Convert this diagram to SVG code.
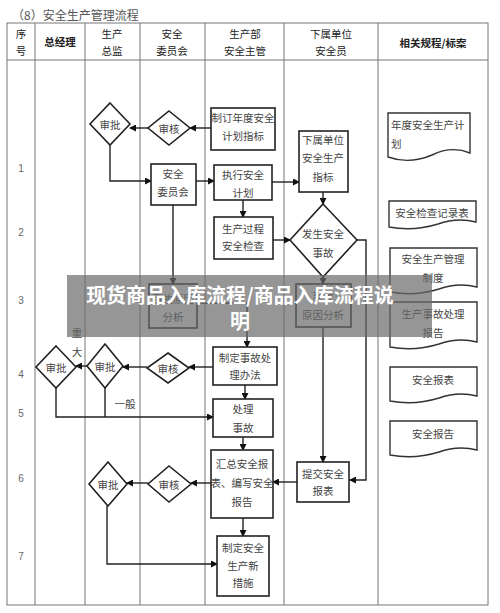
<svg xmlns="http://www.w3.org/2000/svg" width="500" height="613" viewBox="0 0 500 613">
<style>
text{font-family:"Noto Sans CJK SC","Liberation Sans",sans-serif;}
.t{font-size:10.5px;fill:#444;text-anchor:middle;dominant-baseline:central;}
.h{font-size:10.5px;fill:#222;text-anchor:middle;dominant-baseline:central;}
.hb{font-size:10.5px;fill:#222;text-anchor:middle;dominant-baseline:central;font-weight:bold;}
.n{font-size:10px;fill:#666;text-anchor:middle;dominant-baseline:central;font-family:"Liberation Sans",sans-serif;}
.grid{stroke:#777;stroke-width:1;fill:none;}
.box{fill:#fff;stroke:#222;stroke-width:1.6;}
.dia{fill:#fff;stroke:#222;stroke-width:1.6;}
.doc{fill:#fff;stroke:#333;stroke-width:1.4;}
.c{fill:none;stroke:#222;stroke-width:1.4;}
.ca{fill:none;stroke:#222;stroke-width:1.4;marker-end:url(#ah);}
</style>
<defs>
<marker id="ah" markerWidth="7" markerHeight="7" refX="6" refY="3.5" orient="auto" markerUnits="userSpaceOnUse">
<path d="M0,0 L7,3.5 L0,7 Z" fill="#111"/>
</marker>
</defs>
<rect width="500" height="613" fill="#fff"/>
<text x="12" y="14" style="font-size:12px;fill:#555;dominant-baseline:central;">（8）安全生产管理流程</text>
<g id="table">
<rect class="grid" x="7" y="23" width="481" height="582"/>
<line class="grid" x1="7" y1="60" x2="488" y2="60"/>
<line class="grid" x1="35" y1="23" x2="35" y2="605"/>
<line class="grid" x1="85" y1="23" x2="85" y2="605"/>
<line class="grid" x1="140" y1="23" x2="140" y2="605"/>
<line class="grid" x1="205" y1="23" x2="205" y2="605"/>
<line class="grid" x1="284" y1="23" x2="284" y2="605"/>
<line class="grid" x1="378" y1="23" x2="378" y2="605"/>
<text class="h" x="21" y="33">序</text><text class="h" x="21" y="50">号</text>
<text class="hb" x="60" y="41">总经理</text>
<text class="h" x="112" y="33">生产</text><text class="h" x="112" y="50">总监</text>
<text class="h" x="172" y="33">安全</text><text class="h" x="172" y="50">委员会</text>
<text class="h" x="245" y="33">生产部</text><text class="h" x="245" y="50">安全主管</text>
<text class="h" x="331" y="33">下属单位</text><text class="h" x="331" y="50">安全员</text>
<text class="hb" x="433" y="42">相关规程/标案</text>
<text class="n" x="21" y="168">1</text>
<text class="n" x="21" y="232">2</text>
<text class="n" x="21" y="300">3</text>
<text class="n" x="21" y="374">4</text>
<text class="n" x="21" y="413">5</text>
<text class="n" x="21" y="478">6</text>
<text class="n" x="21" y="556">7</text>
</g>
<g id="connectors">
<path class="ca" d="M211,128 H190"/>
<path class="ca" d="M148,128 H130"/>
<path class="ca" d="M110,145 V181 H151"/>
<path class="ca" d="M196,181 H214"/>
<path class="ca" d="M272,182 H299"/>
<path class="ca" d="M243,200 V217"/>
<path class="ca" d="M323,192 V204"/>
<path class="ca" d="M273,240 H290"/>
<path class="ca" d="M323,277 V284"/>
<path class="ca" d="M357,240 H366 V480 H350"/>
<path class="ca" d="M323,327 V462"/>
<path class="ca" d="M173,205 V284"/>
<path class="ca" d="M197,303 H247 V347"/>
<path class="ca" d="M213,367 H189"/>
<path class="ca" d="M147,367 H123"/>
<path class="ca" d="M87,366 H76"/>
<path class="ca" d="M56,388 V417 H213"/>
<path class="c" d="M105,388 V417"/>
<path class="ca" d="M245,385 V399"/>
<path class="ca" d="M243,437 V450"/>
<path class="ca" d="M297,482 H273"/>
<path class="ca" d="M211,483 H191"/>
<path class="ca" d="M148,483 H127"/>
<path class="ca" d="M107,506 V564 H217"/>
<path class="ca" d="M243,518 V536"/>
</g>
<g id="n-approve1">
<polygon class="dia" points="110,103 130,124 110,145 90,124"/>
<text class="t" x="110" y="124">审批</text>
</g>
<g id="n-review1">
<polygon class="dia" points="169,111 190,128 169,145 148,128"/>
<text class="t" x="169" y="128">审核</text>
</g>
<g id="n-plan">
<rect class="box" x="211" y="108" width="64" height="42"/>
<text class="t" x="243" y="117">制订年度安全</text>
<text class="t" x="243" y="135">计划指标</text>
</g>
<g id="n-subindex">
<rect class="box" x="299" y="131" width="49" height="61"/>
<text class="t" x="323" y="139">下属单位</text>
<text class="t" x="323" y="157">安全生产</text>
<text class="t" x="323" y="176">指标</text>
</g>
<g id="n-committee">
<rect class="box" x="151" y="164" width="45" height="41"/>
<text class="t" x="173" y="173">安全</text>
<text class="t" x="173" y="191">委员会</text>
</g>
<g id="n-execute">
<rect class="box" x="214" y="165" width="58" height="35"/>
<text class="t" x="243" y="174">执行安全</text>
<text class="t" x="243" y="192">计划</text>
</g>
<g id="n-check">
<rect class="box" x="214" y="217" width="59" height="42"/>
<text class="t" x="243" y="228">生产过程</text>
<text class="t" x="243" y="245">安全检查</text>
</g>
<g id="n-accident">
<polygon class="dia" points="323,204 357,240 323,277 290,240"/>
<text class="t" x="323" y="233">发生安全</text>
<text class="t" x="323" y="252">事故</text>
</g>
<g id="n-cause1">
<rect class="box" x="149" y="284" width="48" height="44"/>
<text class="t" x="173" y="298">事故原因</text>
<text class="t" x="173" y="316">分析</text>
</g>
<g id="n-cause2">
<rect class="box" x="296" y="284" width="55" height="43"/>
<text class="t" x="323" y="296">事故</text>
<text class="t" x="323" y="314">原因分析</text>
</g>
<g id="n-method">
<rect class="box" x="213" y="347" width="64" height="38"/>
<text class="t" x="245" y="357">制定事故处</text>
<text class="t" x="245" y="374">理办法</text>
</g>
<g id="n-review2">
<polygon class="dia" points="168,353 189,368 168,383 147,368"/>
<text class="t" x="168" y="368">审核</text>
</g>
<g id="n-approve2">
<polygon class="dia" points="105,344 123,366 105,388 87,366"/>
<text class="t" x="105" y="366">审批</text>
</g>
<g id="n-approve1b">
<polygon class="dia" points="56,346 76,367 56,388 36,367"/>
<text class="t" x="56" y="367">审批</text>
</g>
<g id="labels">
<text class="t" x="77" y="332">重</text>
<text class="t" x="77" y="351">大</text>
<text class="t" x="125" y="403">一般</text>
</g>
<g id="n-handle">
<rect class="box" x="213" y="399" width="60" height="38"/>
<text class="t" x="243" y="408">处理</text>
<text class="t" x="243" y="427">事故</text>
</g>
<g id="n-summary">
<rect class="box" x="211" y="450" width="62" height="68"/>
<text class="t" x="242" y="463">汇总安全报</text>
<text class="t" x="242" y="482">表、编写安全</text>
<text class="t" x="242" y="501">报告</text>
</g>
<g id="n-submit">
<rect class="box" x="297" y="462" width="52" height="40"/>
<text class="t" x="323" y="473">提交安全</text>
<text class="t" x="323" y="490">报表</text>
</g>
<g id="n-review3">
<polygon class="dia" points="169,466 191,484 169,502 148,484"/>
<text class="t" x="169" y="484">审核</text>
</g>
<g id="n-approve3">
<polygon class="dia" points="108,462 127,484 108,506 89,484"/>
<text class="t" x="108" y="484">审批</text>
</g>
<g id="n-measures">
<rect class="box" x="217" y="536" width="52" height="60"/>
<text class="t" x="243" y="547">制定安全</text>
<text class="t" x="243" y="565">生产新</text>
<text class="t" x="243" y="582">措施</text>
</g>
<g id="d-plan">
<path class="doc" d="M388,113 H470 V153 C458,148 446,148 432,155 C418,161 402,162 388,157 Z"/>
<text class="t" x="391" y="124" style="text-anchor:start">年度安全生产计</text>
<text class="t" x="391" y="143" style="text-anchor:start">划</text>
</g>
<g id="d-record">
<path class="doc" d="M389,201 H476 V222 C464,219 452,219 438,224 C422,229 405,230 389,227 Z"/>
<text class="t" x="432" y="212">安全检查记录表</text>
</g>
<g id="d-system">
<path class="doc" d="M390,248 H477 V287 C465,284 453,284 439,289 C423,294 406,295 390,292 Z"/>
<text class="t" x="433" y="258">安全生产管理</text>
<text class="t" x="433" y="277">制度</text>
</g>
<g id="d-report1">
<path class="doc" d="M390,302 H477 V342 C465,339 453,339 439,344 C423,349 406,350 390,347 Z"/>
<text class="t" x="433" y="313">生产事故处理</text>
<text class="t" x="433" y="332">报告</text>
</g>
<g id="d-table">
<path class="doc" d="M390,367 H477 V396 C465,393 453,393 439,398 C423,403 406,404 390,401 Z"/>
<text class="t" x="433" y="379">安全报表</text>
</g>
<g id="d-report2">
<path class="doc" d="M390,421 H477 V450 C465,447 453,447 439,452 C423,457 406,458 390,455 Z"/>
<text class="t" x="433" y="433">安全报告</text>
</g>
<g id="banner">
<rect x="67" y="275" width="365" height="62" fill="#6a6a6a" opacity="0.7"/>
<text x="240" y="294" style="font-size:20px;font-weight:bold;fill:#fff;text-anchor:middle;dominant-baseline:central;">现货商品入库流程/商品入库流程说</text>
<text x="240" y="320" style="font-size:20px;font-weight:bold;fill:#fff;text-anchor:middle;dominant-baseline:central;">明</text>
</g>
</svg>
